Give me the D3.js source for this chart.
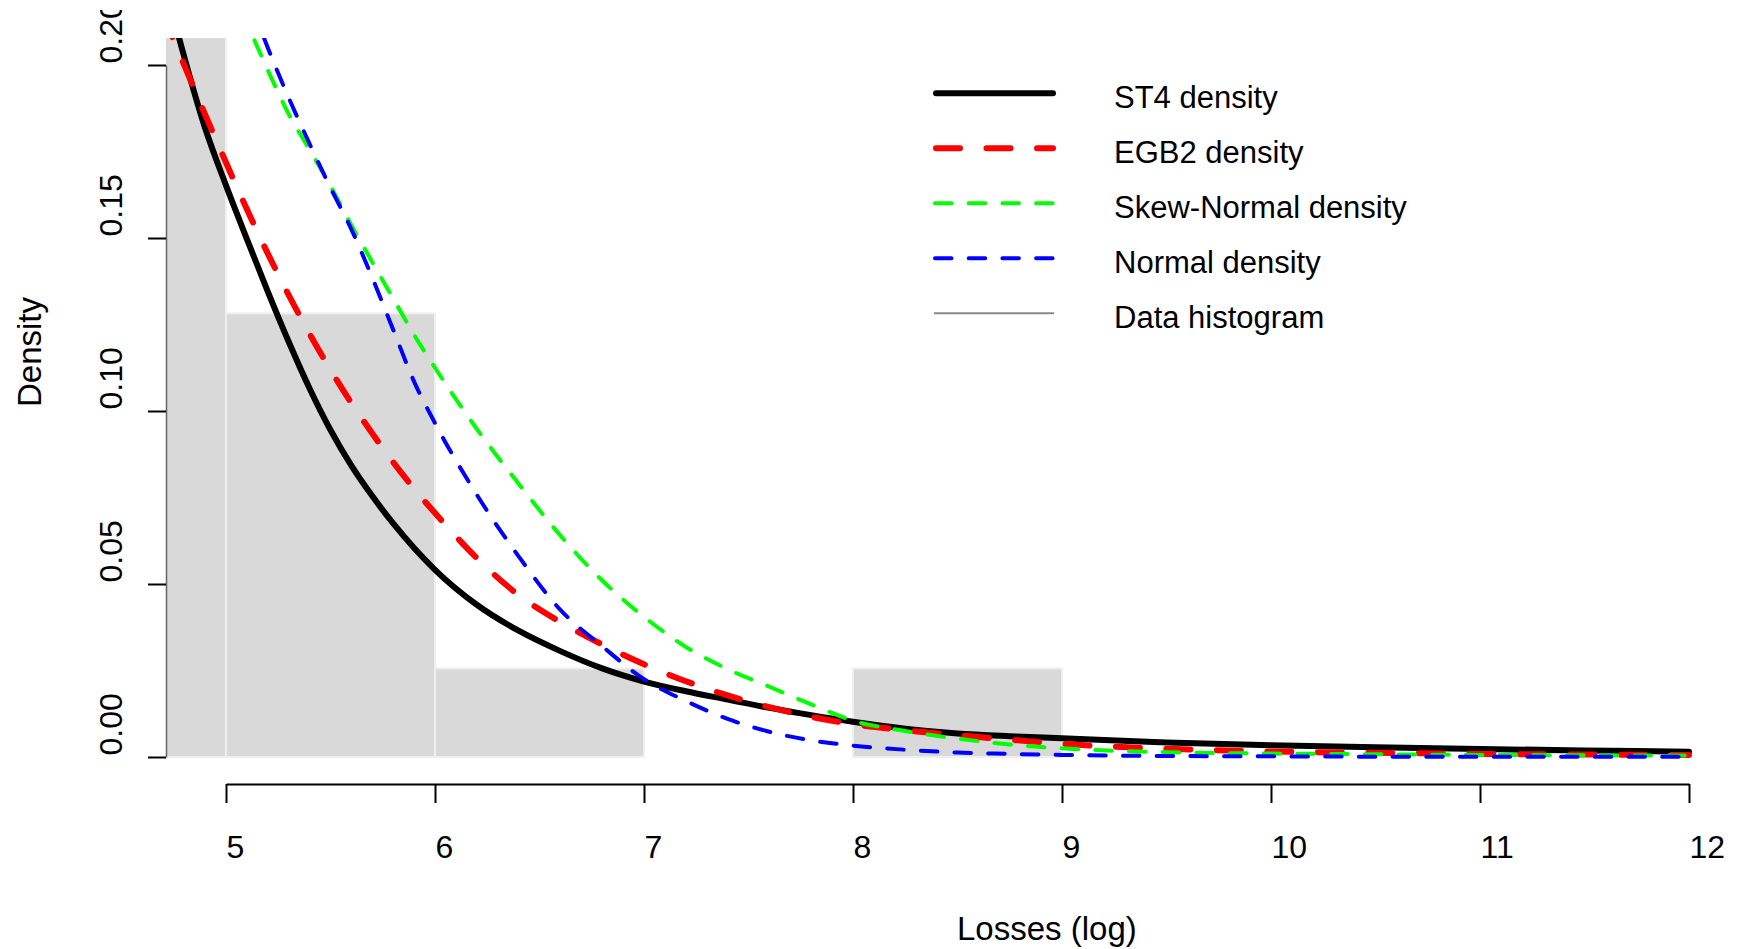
<!DOCTYPE html>
<html>
<head>
<meta charset="utf-8">
<script src="https://cdn.jsdelivr.net/npm/d3@7"></script>
<style>
	body { margin: 0; background: #fff; }
	svg { display: block; font-family: "Liberation Sans", Arial, Helvetica, sans-serif; }
</style>
</head>
<body>
<div id="chart"></div>
<script>
var width = 1737, height = 949;

// histogram of the data (bin start, density)
var binStarts = [4, 5, 6, 7, 8];
var binDensity = [0.41, 0.1282, 0.0256, 0, 0.0256];

var xGrid = [4.70, 4.75, 4.9, 5.0, 5.1, 5.2, 5.3, 5.4, 5.5, 5.6, 5.7, 5.8, 5.9, 6.0,
	6.2, 6.4, 6.6, 6.8, 7.0, 7.2, 7.4, 7.6, 7.8, 8.0, 8.25, 8.5, 8.75, 9.0,
	9.5, 10, 10.5, 11, 11.5, 12];
var st4Density = [0.225, 0.2135, 0.1818, 0.1652, 0.1497, 0.1345, 0.1200, 0.1065, 0.0945, 0.0842, 0.0754, 0.0675, 0.0604, 0.0541,
	0.0440, 0.0365, 0.0306, 0.0256, 0.0218, 0.0190, 0.0166, 0.0142, 0.0121, 0.0102, 0.0082, 0.0068, 0.0060, 0.0054,
	0.0042, 0.0034, 0.0028, 0.0023, 0.0019, 0.0015];
var egb2Density = [0.2145, 0.2072, 0.1857, 0.1718, 0.1583, 0.1455, 0.1335, 0.1223, 0.1119, 0.1023, 0.0935, 0.0852, 0.0775, 0.0705,
	0.0575, 0.0468, 0.0390, 0.0325, 0.0268, 0.0219, 0.0178, 0.0144, 0.0116, 0.0095, 0.0077, 0.0063, 0.0050, 0.0038,
	0.0024, 0.0016, 0.0012, 0.0009, 0.0007, 0.0006];
var skewNormalDensity = [0.270, 0.263, 0.241, 0.227, 0.2122, 0.1985, 0.1858, 0.1755, 0.1650, 0.1537, 0.1430, 0.1325, 0.1220, 0.1125,
	0.0948, 0.0790, 0.0640, 0.0510, 0.0405, 0.0318, 0.0254, 0.0203, 0.0152, 0.0105, 0.0075, 0.0053, 0.0036, 0.0025,
	0.0014, 0.0010, 0.0008, 0.0006, 0.0005, 0.0004];
var normalDensity = [0.280, 0.273, 0.251, 0.236, 0.221, 0.2050, 0.1905, 0.1772, 0.1645, 0.1525, 0.1385, 0.1235, 0.1085, 0.0965,
	0.0758, 0.0580, 0.0425, 0.0320, 0.0225, 0.0162, 0.0110, 0.0073, 0.0048, 0.0033, 0.0021, 0.0013, 0.0009, 0.0006,
	0.0003, 0.0002, 0.0001, 0.0001, 0.0001, 0.0001];

var xTicks = [5, 6, 7, 8, 9, 10, 11, 12];
var yTicks = [0, 0.05, 0.10, 0.15, 0.20];
var yTickLabels = ["0.00", "0.05", "0.10", "0.15", "0.20"];
var legendLabels = ["ST4 density", "EGB2 density", "Skew-Normal density", "Normal density", "Data histogram"];

// visible data window of the plot region
var xLow = 4.713, yHigh = 0.2078;

var series = [
	{ values: st4Density, color: "#000000", width: 6, dash: null },
	{ values: egb2Density, color: "#ff0000", width: 6, dash: "24 26.5" },
	{ values: skewNormalDensity, color: "#00ff00", width: 4, dash: "16.5 17.2" },
	{ values: normalDensity, color: "#0000ff", width: 4, dash: "16.5 17.2" }
];

var xScale = d3.scaleLinear().domain([5, 12]).range([226, 1689]);
var yScale = d3.scaleLinear().domain([0, 0.2]).range([757, 65]);

var svg = d3.select("#chart").append("svg")
	.attr("width", width)
	.attr("height", height);

var defs = svg.append("defs");
defs.append("clipPath").attr("id", "page-clip")
	.append("rect")
	.attr("x", 0).attr("y", 10)
	.attr("width", width).attr("height", height - 10);
defs.append("clipPath").attr("id", "plot-clip")
	.append("rect")
	.attr("x", xScale(xLow)).attr("y", yScale(yHigh))
	.attr("width", width - xScale(xLow))
	.attr("height", height - yScale(yHigh));

var page = svg.append("g").attr("clip-path", "url(#page-clip)");
var plot = page.append("g").attr("clip-path", "url(#plot-clip)");

// histogram bars
plot.selectAll("rect.bar")
	.data(binStarts).enter()
	.append("rect")
	.attr("class", "bar")
	.attr("x", function(d){ return xScale(d); })
	.attr("width", function(d){ return xScale(d + 1) - xScale(d); })
	.attr("y", function(d, i){ return yScale(binDensity[i]); })
	.attr("height", function(d, i){ return yScale(0) - yScale(binDensity[i]); })
	.attr("fill", "#d9d9d9")
	.attr("stroke", "#efefef")
	.attr("stroke-width", 2);

// density curves
var line = d3.line()
	.x(function(d, i){ return xScale(xGrid[i]); })
	.y(function(d){ return yScale(d); })
	.curve(d3.curveMonotoneX);

series.forEach(function(s){
	plot.append("path")
		.datum(s.values)
		.attr("d", line)
		.attr("fill", "none")
		.attr("stroke", s.color)
		.attr("stroke-width", s.width)
		.attr("stroke-linecap", "round")
		.attr("stroke-linejoin", "round")
		.attr("stroke-dasharray", s.dash);
});

// x axis
var xAxis = page.append("g")
	.attr("transform", "translate(0," + 784 + ")")
	.call(d3.axisBottom(xScale).tickValues(xTicks).tickSize(19).tickSizeOuter(0).tickFormat(d3.format("d")));
xAxis.select(".domain").attr("stroke", "#000").attr("stroke-width", 2);
xAxis.selectAll(".tick line").attr("stroke", "#000").attr("stroke-width", 2);
xAxis.selectAll(".tick text")
	.attr("y", 74).attr("dy", null).attr("x", 0)
	.attr("text-anchor", "start")
	.attr("fill", "#000")
	.style("font-size", "32px");

// y axis
var yAxis = page.append("g")
	.attr("transform", "translate(" + 166 + ",0)")
	.call(d3.axisLeft(yScale).tickValues(yTicks).tickSize(18).tickSizeOuter(0)
		.tickFormat(function(d, i){ return yTickLabels[i]; }));
yAxis.select(".domain").attr("stroke", "#666").attr("stroke-width", 1.5);
yAxis.selectAll(".tick line").attr("stroke", "#000").attr("stroke-width", 2);
yAxis.selectAll(".tick text")
	.attr("x", 2).attr("y", -44).attr("dy", null)
	.attr("transform", "rotate(-90)")
	.attr("text-anchor", "start")
	.attr("fill", "#000")
	.style("font-size", "32px");

// axis titles
page.append("text")
	.attr("x", 957).attr("y", 940)
	.attr("text-anchor", "start")
	.style("font-size", "33px")
	.text("Losses (log)");
page.append("text")
	.attr("transform", "translate(41,407) rotate(-90)")
	.attr("text-anchor", "start")
	.style("font-size", "33px")
	.text("Density");

// legend
var legendStyles = series.map(function(s){
	return { color: s.color, width: s.width, dash: s.dash, cap: "round" };
}).concat([{ color: "#888888", width: 2, dash: null, cap: "butt" }]);

var legend = page.append("g").attr("class", "legend");
var items = legend.selectAll("g.item")
	.data(legendLabels).enter()
	.append("g")
	.attr("class", "item")
	.attr("transform", function(d, i){ return "translate(0," + (93.3 + 55 * i) + ")"; });
items.append("line")
	.attr("x1", function(d, i){ return legendStyles[i].cap === "round" ? 933 + legendStyles[i].width / 2 : 934; })
	.attr("x2", function(d, i){ return legendStyles[i].cap === "round" ? 1056 - legendStyles[i].width / 2 : 1054; })
	.attr("y1", 0).attr("y2", 0)
	.attr("stroke", function(d, i){ return legendStyles[i].color; })
	.attr("stroke-width", function(d, i){ return legendStyles[i].width; })
	.attr("stroke-linecap", function(d, i){ return legendStyles[i].cap; })
	.attr("stroke-dasharray", function(d, i){ return legendStyles[i].dash; });
items.append("text")
	.attr("x", 1114).attr("y", 15)
	.style("font-size", "31px")
	.text(function(d){ return d; });
</script>
</body>
</html>
